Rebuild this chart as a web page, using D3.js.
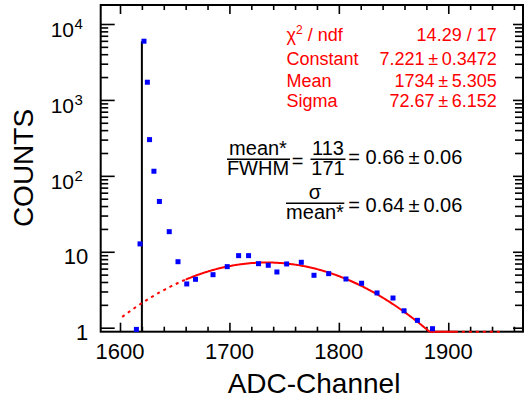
<!DOCTYPE html>
<html><head><meta charset="utf-8">
<script src="https://cdn.jsdelivr.net/npm/d3@7"></script>
<style>
html,body{margin:0;padding:0;background:#fff;}
svg{display:block;font-family:"Liberation Sans",Arial,Helvetica,sans-serif;}
</style>
</head><body>
<svg id="c" width="524" height="401"></svg>
<script>
// ---- data ----
const channels = [1615, 1618.3, 1621.9, 1625, 1627, 1631, 1636, 1645, 1653, 1661, 1669, 1685, 1698, 1708.4, 1717.5, 1726.6, 1735.5, 1743.4, 1752.3, 1765.7, 1777.3, 1790.7, 1806.5, 1820.8, 1834.9, 1849.5, 1859.6, 1871.8, 1885.6];
const counts   = [0.95, 12.7, 5935, 1711, 300, 115, 46, 18.4, 7.4, 3.77, 4.34, 4.99, 6.37, 8.89, 8.89, 6.97, 6.64, 5.42, 6.91, 7.27, 4.9, 5.15, 4.38, 3.85, 2.87, 2.46, 1.67, 1.25, 0.97];
const thresholdChannel = 1620;

// Gaussian fit parameters (from stats box)
const fitConstant = 7.221, fitMean = 1734, fitSigma = 72.67;
const fitRange = [1660, 1906];
const funcRange = [1602, 1947];

const xMajorTicks = [1600, 1700, 1800, 1900];
const xTickLabels = ["1600", "1700", "1800", "1900"];
const yMajorTicks = [1, 10, 100, 1000, 10000];
const yTickBases = ["1", "10", "10", "10", "10"];
const yTickExps  = ["", "", "2", "3", "4"];

const statNames  = ["χ", "Constant", "Mean", "Sigma"];
const statValues = ["14.29 / 17", "7.221\u2009±\u20090.3472", "1734\u2009±\u20095.305", "72.67\u2009±\u20096.152"];

const xTitle = "ADC-Channel", yTitle = "COUNTS";

// ---- layout ----
const L = 100.7, R = 523, T = 5, B = 331.7;
const svg = d3.select("#c");
const x = d3.scaleLinear().domain([1582.36, 1968.3]).range([L, R]);
const y = d3.scaleLog().domain([0.8857, 17790]).range([B, T]);

const xMinor = d3.range(1600, 1961, 20).filter(v => !xMajorTicks.includes(v));
const yMinor = [];
for (let d = 0; d <= 4; d++) for (let m = 2; m <= 9; m++) { const v = m * Math.pow(10, d); if (v < 17790) yMinor.push(v); }

function styleAxis(g) {
  g.select(".domain").remove();
  g.selectAll("line").attr("stroke", "#000").attr("stroke-width", 1.6);
  g.selectAll("text").remove();
}
// bottom
svg.append("g").attr("transform", `translate(0,${B})`).call(d3.axisBottom(x).tickValues(xMajorTicks).tickSizeInner(-9).tickSizeOuter(0)).call(styleAxis);
svg.append("g").attr("transform", `translate(0,${B})`).call(d3.axisBottom(x).tickValues(xMinor).tickSizeInner(-5).tickSizeOuter(0)).call(styleAxis);
// top
svg.append("g").attr("transform", `translate(0,${T})`).call(d3.axisTop(x).tickValues(xMajorTicks).tickSizeInner(-9).tickSizeOuter(0)).call(styleAxis);
svg.append("g").attr("transform", `translate(0,${T})`).call(d3.axisTop(x).tickValues(xMinor).tickSizeInner(-5).tickSizeOuter(0)).call(styleAxis);
// left
svg.append("g").attr("transform", `translate(${L},0)`).call(d3.axisLeft(y).tickValues(yMajorTicks).tickSizeInner(-14).tickSizeOuter(0)).call(styleAxis);
svg.append("g").attr("transform", `translate(${L},0)`).call(d3.axisLeft(y).tickValues(yMinor).tickSizeInner(-7.5).tickSizeOuter(0)).call(styleAxis);
// right
svg.append("g").attr("transform", `translate(${R},0)`).call(d3.axisRight(y).tickValues(yMajorTicks).tickSizeInner(-10).tickSizeOuter(0)).call(styleAxis);
svg.append("g").attr("transform", `translate(${R},0)`).call(d3.axisRight(y).tickValues(yMinor).tickSizeInner(-8).tickSizeOuter(0)).call(styleAxis);

// frame
svg.append("rect").attr("x", L).attr("y", T).attr("width", R - L).attr("height", B - T)
  .attr("fill", "none").attr("stroke", "#000").attr("stroke-width", 2);

// x tick labels
svg.append("g").selectAll("text").data(xMajorTicks).join("text")
  .attr("x", d => x(d)).attr("y", 359.3).attr("text-anchor", "middle")
  .attr("font-size", 22).attr("fill", "#000").text((d, i) => xTickLabels[i]);

// y tick labels
yMajorTicks.forEach((v, i) => {
  const yy = y(v);
  if (yTickExps[i] === "") {
    svg.append("text").attr("x", 88.3).attr("y", yy + 12).attr("text-anchor", "end")
      .attr("font-size", 22).text(yTickBases[i]);
  } else {
    svg.append("text").attr("x", 74).attr("y", yy + 13.5).attr("text-anchor", "end")
      .attr("font-size", 21).text(yTickBases[i]);
    svg.append("text").attr("x", 74.5).attr("y", yy + 5.5).attr("text-anchor", "start")
      .attr("font-size", 15).text(yTickExps[i]);
  }
});

// axis titles
svg.append("text").attr("x", 314).attr("y", 392.7).attr("text-anchor", "middle")
  .attr("font-size", 28).text(xTitle);
svg.append("text").attr("transform", `translate(33,168) rotate(-90)`).attr("text-anchor", "middle")
  .attr("font-size", 28).text(yTitle);

// threshold line
svg.append("line").attr("x1", x(thresholdChannel)).attr("x2", x(thresholdChannel))
  .attr("y1", y(d3.max(counts))).attr("y2", B).attr("stroke", "#000").attr("stroke-width", 2);

// fit function
const gaus = c => fitConstant * Math.exp(-0.5 * Math.pow((c - fitMean) / fitSigma, 2));
const yMin = y.domain()[0];
const curve = d3.line().x(c => x(c)).y(c => y(Math.max(yMin, gaus(c))));
const samples = (a, b) => { const s = d3.range(a, b, 1); s.push(b); return s; };
svg.append("path").attr("d", curve(samples(funcRange[0], fitRange[0]))).attr("fill", "none")
  .attr("stroke", "#ff0000").attr("stroke-width", 2).attr("stroke-dasharray", "3,4");
svg.append("path").attr("d", curve(samples(fitRange[1], funcRange[1]))).attr("fill", "none")
  .attr("stroke", "#ff0000").attr("stroke-width", 2).attr("stroke-dasharray", "3,4");
svg.append("path").attr("d", curve(samples(fitRange[0], fitRange[1]))).attr("fill", "none")
  .attr("stroke", "#ff0000").attr("stroke-width", 2);

// markers
const ms = 5;
svg.append("g").selectAll("rect").data(channels).join("rect")
  .attr("x", d => x(d) - ms / 2).attr("y", (d, i) => y(counts[i]) - ms / 2)
  .attr("width", ms).attr("height", ms).attr("fill", "#0000ff");

// stats box
const statBaselines = [41.3, 65.3, 86.7, 106.7];
const stats = svg.append("g").attr("fill", "#ff0000").attr("font-size", 18);
statNames.forEach((n, i) => {
  const t = stats.append("text").attr("x", 286.5).attr("y", statBaselines[i]);
  if (i === 0) {
    t.append("tspan").text(n);
    t.append("tspan").attr("font-size", 12).attr("dy", -7).text("2");
    t.append("tspan").attr("dy", 7).text(" / ndf");
  } else t.text(n);
  stats.append("text").attr("x", 496.7).attr("y", statBaselines[i]).attr("text-anchor", "end").text(statValues[i]);
});

// formula annotations
const fg = svg.append("g").attr("fill", "#000").attr("font-size", 20);
function frac(cx, x0, x1, barY, num, den) {
  fg.append("text").attr("x", cx).attr("y", barY - 4.3).attr("text-anchor", "middle").text(num);
  fg.append("text").attr("x", cx).attr("y", barY + 15.7).attr("text-anchor", "middle").text(den);
  fg.append("line").attr("x1", x0).attr("x2", x1).attr("y1", barY).attr("y2", barY)
    .attr("stroke", "#000").attr("stroke-width", 1.5);
}
frac(258, 227, 290, 159.3, "mean*", "FWHM");
fg.append("text").attr("x", 297.5).attr("y", 168).attr("text-anchor", "middle").text("=");
frac(328, 310.5, 345.5, 159.3, "113", "171");
fg.append("text").attr("x", 348.3).attr("y", 164).text("= 0.66\u2009±\u20090.06");
frac(315, 286, 344.3, 203.3, "σ", "mean*");
fg.append("text").attr("x", 348.3).attr("y", 211.7).text("= 0.64\u2009±\u20090.06");
</script>
</body></html>
